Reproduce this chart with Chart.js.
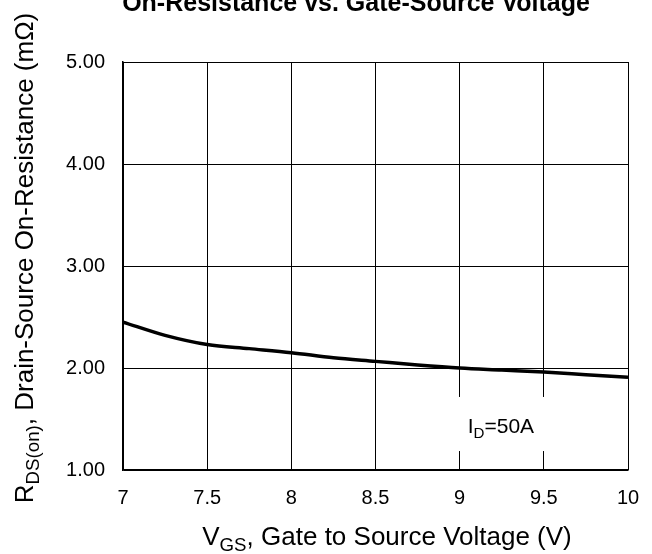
<!DOCTYPE html>
<html><head><meta charset="utf-8">
<script src="https://cdn.jsdelivr.net/npm/chart.js@4"></script>
<style>html,body{margin:0;padding:0;background:#fff}#w{width:652px;height:554px;position:relative}</style>
</head><body><div id="w"><canvas id="c"></canvas></div>
<script>
const vgs = [7.0, 7.25, 7.5, 7.75, 8.0, 8.25, 8.5, 8.75, 9.0, 9.25, 9.5, 9.75, 10.0];
const rds = [2.45, 2.32, 2.23, 2.19, 2.15, 2.10, 2.065, 2.03, 2.00, 1.98, 1.96, 1.935, 1.91];
const xTicks = [7, 7.5, 8, 8.5, 9, 9.5, 10];
const yTicks = [1, 2, 3, 4, 5];
const titleText = 'On-Resistance vs. Gate-Source Voltage';
const FONT = '"Liberation Sans", Arial, sans-serif';

function drawSub(ctx, parts, x, y, size, align) {
  let w = 0;
  parts.forEach(p => { ctx.font = (p[1] ? size*0.72 : size) + 'px ' + FONT; w += ctx.measureText(p[0]).width; });
  let cx = align === 'center' ? x - w/2 : x;
  ctx.textAlign = 'left'; ctx.textBaseline = 'alphabetic';
  parts.forEach(p => {
    ctx.font = (p[1] ? size*0.72 : size) + 'px ' + FONT;
    ctx.fillText(p[0], cx, y + (p[1] ? size*0.22 : 0));
    cx += ctx.measureText(p[0]).width;
  });
}

const deco = {
  id: 'deco',
  beforeDatasetsDraw(chart) {
    const ctx = chart.ctx, xs = chart.scales.x, ys = chart.scales.y;
    const x0 = xs.getPixelForValue(8.9), x1 = xs.getPixelForValue(9.6);
    const y0 = ys.getPixelForValue(1.716), y1 = ys.getPixelForValue(1.186);
    ctx.save(); ctx.fillStyle = '#fff'; ctx.fillRect(x0, y0, x1 - x0, y1 - y0);
    ctx.fillStyle = '#000';
    drawSub(ctx, [['I', false], ['D', true], ['=50A', false]], xs.getPixelForValue(9.245), ys.getPixelForValue(1.36), 21, 'center');
    ctx.restore();
  },
  afterDraw(chart) {
    const ctx = chart.ctx;
    ctx.save(); ctx.fillStyle = '#000';
    ctx.font = 'bold 25px ' + FONT; ctx.textAlign = 'center'; ctx.textBaseline = 'alphabetic';
    ctx.fillText(titleText, 356, 11);
    drawSub(ctx, [['V', false], ['GS', true], [', Gate to Source Voltage (V)', false]], 387, 545, 26, 'center');
    ctx.translate(33, 258); ctx.rotate(-Math.PI/2);
    drawSub(ctx, [['R', false], ['DS(on)', true], [', Drain-Source On-Resistance (m\u03A9)', false]], 0, 0, 26, 'center');
    ctx.restore();
  }
};

new Chart(document.getElementById('c'), {
  type: 'scatter',
  data: { datasets: [{ data: vgs.map((v, i) => ({x: v, y: rds[i]})), showLine: true, borderColor: '#000', borderWidth: 3.5, pointRadius: 0, cubicInterpolationMode: 'monotone', fill: false }] },
  options: {
    responsive: true, maintainAspectRatio: false, animation: false,
    layout: { padding: { left: 0, top: 62, right: 24, bottom: 0 } },
    plugins: { legend: { display: false }, tooltip: { enabled: false } },
    scales: {
      x: { type: 'linear', min: 7, max: 10, afterFit(s) { s.height = 84; s.paddingLeft = 0; s.paddingRight = 0; },
        afterBuildTicks(s) { s.ticks = xTicks.map(v => ({value: v})); },
        grid: { color: '#000', lineWidth: 1, drawTicks: false },
        border: { color: '#000', width: 1.5 },
        ticks: { color: '#000', padding: 16, font: { family: FONT, size: 20 }, maxRotation: 0, callback: v => String(v) } },
      y: { min: 1, max: 5, afterFit(s) { s.width = 123; s.paddingTop = 0; s.paddingBottom = 0; },
        afterBuildTicks(s) { s.ticks = yTicks.map(v => ({value: v})); },
        grid: { color: '#000', lineWidth: 1, drawTicks: false },
        border: { color: '#000', width: 1.5 },
        ticks: { color: '#000', padding: 18, font: { family: FONT, size: 20 }, callback: v => v.toFixed(2) } }
    }
  },
  plugins: [deco]
});
</script>
</body></html>
